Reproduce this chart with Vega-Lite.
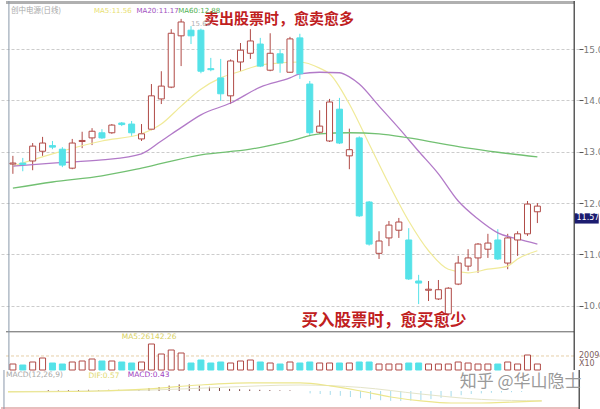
{
  "$schema": "https://vega.github.io/schema/vega-lite/v6.json",
  "padding": 0,
  "autosize": {"type": "pad"},
  "background": "white",
  "spacing": 0,
  "bounds": "flush",
  "config": {
    "view": {"stroke": null},
    "font": "DejaVu Sans",
    "axisY": {"grid": true, "gridColor": "#cccccc", "gridDash": [3, 2], "domain": false, "tickColor": "#555555", "tickSize": 4, "labelFontSize": 9, "labelColor": "#7a7a7a", "labelPadding": 0, "labelFont": "DejaVu Sans"}
  },
  "datasets": {
    "k": [
      {"i":1,"o":12.76,"h":12.92,"l":12.57,"c":12.78,"d":"u","v":8610},
      {"i":2,"o":12.78,"h":12.88,"l":12.62,"c":12.75,"d":"d","v":7175},
      {"i":3,"o":12.82,"h":13.17,"l":12.64,"c":13.11,"d":"u","v":11480},
      {"i":4,"o":13.01,"h":13.29,"l":12.92,"c":13.17,"d":"u","v":17220},
      {"i":5,"o":13.12,"h":13.21,"l":13.05,"c":13.09,"d":"d","v":10045},
      {"i":6,"o":13.05,"h":13.09,"l":12.70,"c":12.74,"d":"d","v":8610},
      {"i":7,"o":12.68,"h":13.25,"l":12.66,"c":13.17,"d":"u","v":11480},
      {"i":8,"o":13.20,"h":13.39,"l":13.07,"c":13.22,"d":"u","v":12915},
      {"i":9,"o":13.27,"h":13.46,"l":13.13,"c":13.40,"d":"u","v":15785},
      {"i":10,"o":13.37,"h":13.44,"l":13.25,"c":13.27,"d":"d","v":12915},
      {"i":11,"o":13.37,"h":13.54,"l":13.35,"c":13.52,"d":"u","v":12915},
      {"i":12,"o":13.56,"h":13.58,"l":13.50,"c":13.53,"d":"d","v":11480},
      {"i":13,"o":13.54,"h":13.60,"l":13.31,"c":13.37,"d":"d","v":10045},
      {"i":14,"o":13.25,"h":13.54,"l":13.21,"c":13.35,"d":"u","v":11480},
      {"i":15,"o":13.44,"h":14.32,"l":13.42,"c":14.09,"d":"u","v":37310},
      {"i":16,"o":14.03,"h":14.57,"l":13.93,"c":14.28,"d":"u","v":22960},
      {"i":17,"o":14.26,"h":15.39,"l":14.24,"c":15.31,"d":"u","v":28700},
      {"i":18,"o":15.26,"h":15.59,"l":14.67,"c":15.53,"d":"u","v":24395},
      {"i":19,"o":15.37,"h":15.45,"l":15.10,"c":15.26,"d":"d","v":10045},
      {"i":20,"o":15.37,"h":15.40,"l":14.53,"c":14.57,"d":"d","v":14350},
      {"i":21,"o":14.62,"h":14.83,"l":14.57,"c":14.60,"d":"d","v":10045},
      {"i":22,"o":14.44,"h":14.81,"l":13.99,"c":14.13,"d":"d","v":11480},
      {"i":23,"o":14.09,"h":14.80,"l":13.93,"c":14.77,"d":"u","v":10045},
      {"i":24,"o":14.75,"h":15.12,"l":14.57,"c":14.98,"d":"u","v":12915},
      {"i":25,"o":14.92,"h":15.39,"l":14.81,"c":15.16,"d":"u","v":14350},
      {"i":26,"o":15.10,"h":15.22,"l":14.65,"c":14.67,"d":"d","v":11480},
      {"i":27,"o":14.59,"h":15.31,"l":14.57,"c":14.92,"d":"u","v":10045},
      {"i":28,"o":14.91,"h":15.00,"l":14.54,"c":14.73,"d":"d","v":8610},
      {"i":29,"o":14.55,"h":15.24,"l":14.54,"c":15.20,"d":"u","v":11480},
      {"i":30,"o":15.22,"h":15.30,"l":14.42,"c":14.52,"d":"d","v":10045},
      {"i":31,"o":14.32,"h":14.38,"l":13.31,"c":13.37,"d":"d","v":11480},
      {"i":32,"o":13.38,"h":13.81,"l":13.35,"c":13.50,"d":"u","v":10045},
      {"i":33,"o":13.21,"h":14.03,"l":13.19,"c":13.97,"d":"u","v":10045},
      {"i":34,"o":13.83,"h":14.05,"l":13.15,"c":13.17,"d":"d","v":10045},
      {"i":35,"o":12.92,"h":13.45,"l":12.66,"c":13.04,"d":"u","v":10045},
      {"i":36,"o":13.27,"h":13.30,"l":11.73,"c":11.75,"d":"d","v":11480},
      {"i":37,"o":12.02,"h":12.04,"l":11.17,"c":11.20,"d":"d","v":11480},
      {"i":38,"o":11.02,"h":11.45,"l":10.91,"c":11.26,"d":"u","v":8610},
      {"i":39,"o":11.32,"h":11.65,"l":11.16,"c":11.57,"d":"u","v":8610},
      {"i":40,"o":11.47,"h":11.71,"l":11.32,"c":11.63,"d":"u","v":8610},
      {"i":41,"o":11.28,"h":11.51,"l":10.50,"c":10.52,"d":"d","v":10045},
      {"i":42,"o":10.48,"h":10.60,"l":10.03,"c":10.44,"d":"d","v":10045},
      {"i":43,"o":10.30,"h":10.48,"l":10.09,"c":10.32,"d":"u","v":8610},
      {"i":44,"o":10.13,"h":10.50,"l":10.11,"c":10.31,"d":"u","v":8610},
      {"i":45,"o":9.84,"h":10.36,"l":9.82,"c":10.34,"d":"u","v":8610},
      {"i":46,"o":10.42,"h":10.97,"l":10.40,"c":10.83,"d":"u","v":11480},
      {"i":47,"o":10.77,"h":11.10,"l":10.68,"c":10.93,"d":"u","v":10045},
      {"i":48,"o":10.93,"h":11.22,"l":10.64,"c":11.20,"d":"u","v":8610},
      {"i":49,"o":11.10,"h":11.40,"l":10.93,"c":11.22,"d":"u","v":8610},
      {"i":50,"o":11.28,"h":11.49,"l":10.89,"c":10.91,"d":"d","v":8610},
      {"i":51,"o":10.83,"h":11.40,"l":10.71,"c":11.32,"d":"u","v":11480},
      {"i":52,"o":11.28,"h":11.45,"l":10.97,"c":11.40,"d":"u","v":8610},
      {"i":53,"o":11.40,"h":12.04,"l":11.36,"c":11.98,"d":"u","v":21525},
      {"i":54,"o":11.83,"h":12.00,"l":11.61,"c":11.94,"d":"u","v":8610}
    ],
    "ma5": [
      {"i":1,"v":12.72},{"i":5,"v":12.96},{"i":10,"v":13.21},{"i":14,"v":13.35},{"i":16,"v":13.54},
      {"i":18,"v":13.89},{"i":20,"v":14.22},{"i":22,"v":14.44},{"i":24,"v":14.57},{"i":26,"v":14.69},
      {"i":28,"v":14.73},{"i":30,"v":14.75},{"i":32,"v":14.63},{"i":33,"v":14.52},{"i":35,"v":13.93},
      {"i":37,"v":13.15},{"i":39,"v":12.37},{"i":41,"v":11.65},{"i":43,"v":11.07},{"i":45,"v":10.71},
      {"i":47,"v":10.64},{"i":49,"v":10.71},{"i":51,"v":10.77},{"i":52,"v":10.91},{"i":54,"v":11.07}
    ],
    "ma20": [
      {"i":1,"v":12.72},{"i":5,"v":12.78},{"i":10,"v":12.84},{"i":14,"v":12.96},{"i":16,"v":13.21},
      {"i":18,"v":13.47},{"i":20,"v":13.72},{"i":23,"v":13.95},{"i":26,"v":14.26},{"i":29,"v":14.44},
      {"i":30,"v":14.52},{"i":32,"v":14.55},{"i":34,"v":14.54},{"i":35,"v":14.46},{"i":36,"v":14.32},
      {"i":38,"v":13.89},{"i":40,"v":13.46},{"i":42,"v":13.01},{"i":44,"v":12.57},{"i":46,"v":12.04},
      {"i":48,"v":11.69},{"i":50,"v":11.42},{"i":52,"v":11.30},{"i":54,"v":11.20}
    ],
    "ma60": [
      {"i":1,"v":12.29},{"i":5,"v":12.41},{"i":10,"v":12.53},{"i":14,"v":12.68},{"i":20,"v":12.94},
      {"i":25,"v":13.05},{"i":29,"v":13.21},{"i":32,"v":13.35},{"i":35,"v":13.37},{"i":38,"v":13.35},
      {"i":41,"v":13.27},{"i":44,"v":13.17},{"i":47,"v":13.07},{"i":50,"v":12.99},{"i":54,"v":12.90}
    ],
    "hist": [
      {"i":5,"m":0.03},{"i":6,"m":0.02},{"i":7,"m":0.03},{"i":8,"m":0.03},{"i":9,"m":0.04},{"i":10,"m":0.03},
      {"i":11,"m":0.04},{"i":12,"m":0.04},{"i":13,"m":0.03},{"i":14,"m":0.05},{"i":15,"m":0.1},{"i":16,"m":0.13},
      {"i":17,"m":0.18},{"i":18,"m":0.22},{"i":19,"m":0.22},{"i":20,"m":0.18},{"i":21,"m":0.14},{"i":22,"m":0.1},
      {"i":23,"m":0.07},{"i":24,"m":0.06},{"i":25,"m":0.05},{"i":26,"m":0.04},{"i":27,"m":0.03},{"i":28,"m":0.02},
      {"i":29,"m":0.02},{"i":31,"m":-0.08},{"i":32,"m":-0.1},{"i":33,"m":-0.13},{"i":34,"m":-0.16},{"i":35,"m":-0.2},
      {"i":36,"m":-0.24},{"i":37,"m":-0.28},{"i":38,"m":-0.31},{"i":39,"m":-0.33},{"i":40,"m":-0.33},{"i":41,"m":-0.32},
      {"i":42,"m":-0.3},{"i":43,"m":-0.27},{"i":44,"m":-0.23},{"i":45,"m":-0.19},{"i":46,"m":-0.14},{"i":47,"m":-0.1},
      {"i":48,"m":-0.08},{"i":49,"m":-0.06},{"i":50,"m":-0.05},{"i":51,"m":-0.04},{"i":52,"m":-0.03}
    ],
    "dif": [
      {"i":1,"m":-0.03},{"i":10,"m":0.0},{"i":15,"m":0.07},{"i":20,"m":0.2},{"i":25,"m":0.27},{"i":30,"m":0.27},
      {"i":33,"m":0.17},{"i":36,"m":0.0},{"i":39,"m":-0.2},{"i":42,"m":-0.33},{"i":45,"m":-0.4},{"i":48,"m":-0.4},
      {"i":51,"m":-0.37},{"i":54,"m":-0.33}
    ],
    "dea": [
      {"i":1,"m":-0.02},{"i":15,"m":0.03},{"i":22,"m":0.12},{"i":30,"m":0.2},{"i":36,"m":0.12},{"i":42,"m":-0.1},
      {"i":48,"m":-0.28},{"i":54,"m":-0.33}
    ]
  },
  "vconcat": [
    {
      "width": 578,
      "height": 331,
      "layer": [
        {
          "data": {"name": "k"},
          "mark": {"type": "rule", "strokeWidth": 1},
          "encoding": {
            "x": {"field": "i", "type": "quantitative", "scale": {"domain": [0.305, 57.7], "nice": false, "zero": false}, "axis": null},
            "y": {"field": "l", "type": "quantitative", "title": null, "scale": {"domain": [9.486, 15.939], "nice": false, "zero": false}, "axis": {"orient": "right", "values": [10, 10.5, 11, 11.5, 12, 12.5, 13, 13.5, 14, 14.5, 15, 15.5], "format": ".2f", "title": null}},
            "y2": {"field": "h"},
            "color": {"field": "d", "type": "nominal", "scale": {"domain": ["u", "d"], "range": ["#b04a46", "#55e2e8"]}, "legend": null}
          }
        },
        {
          "data": {"name": "ma5"},
          "mark": {"type": "line", "strokeWidth": 1.2, "color": "#f0ea98", "interpolate": "monotone"},
          "encoding": {
            "x": {"field": "i", "type": "quantitative"},
            "y": {"field": "v", "type": "quantitative", "title": null}
          }
        },
        {
          "data": {"name": "ma20"},
          "mark": {"type": "line", "strokeWidth": 1.3, "color": "#b27ac8", "interpolate": "monotone"},
          "encoding": {
            "x": {"field": "i", "type": "quantitative"},
            "y": {"field": "v", "type": "quantitative", "title": null}
          }
        },
        {
          "data": {"name": "ma60"},
          "mark": {"type": "line", "strokeWidth": 1.3, "color": "#72c072", "interpolate": "monotone"},
          "encoding": {
            "x": {"field": "i", "type": "quantitative"},
            "y": {"field": "v", "type": "quantitative", "title": null}
          }
        },
        {
          "data": {"name": "k"},
          "mark": {"type": "bar", "size": 6, "strokeWidth": 1},
          "encoding": {
            "x": {"field": "i", "type": "quantitative"},
            "y": {"field": "o", "type": "quantitative", "title": null},
            "y2": {"field": "c"},
            "fill": {"field": "d", "type": "nominal", "scale": {"domain": ["u", "d"], "range": ["#ffffff", "#55e2e8"]}, "legend": null},
            "stroke": {"field": "d", "type": "nominal", "scale": {"domain": ["u", "d"], "range": ["#b04a46", "#55e2e8"]}, "legend": null}
          }
        },
        {
          "data": {"values": [{"i": 27.9, "p": 15.59, "t": "卖出股票时，愈卖愈多"}]},
          "mark": {"type": "text", "font": "Noto Sans CJK SC", "fontWeight": "bold", "fontSize": 15, "color": "#c0201e", "align": "center", "baseline": "middle"},
          "encoding": {
            "x": {"field": "i", "type": "quantitative"},
            "y": {"field": "p", "type": "quantitative", "title": null},
            "text": {"field": "t", "type": "nominal"}
          }
        },
        {
          "data": {"values": [{"i": 38.5, "p": 9.70, "t": "买入股票时，愈买愈少"}]},
          "mark": {"type": "text", "font": "Noto Sans CJK SC", "fontWeight": "bold", "fontSize": 16.5, "color": "#c0201e", "align": "center", "baseline": "middle"},
          "encoding": {
            "x": {"field": "i", "type": "quantitative"},
            "y": {"field": "p", "type": "quantitative", "title": null},
            "text": {"field": "t", "type": "nominal"}
          }
        },
        {
          "data": {"values": [{"i": 0.8, "p": 15.74, "t": "创中电源(日线)"}]},
          "mark": {"type": "text", "font": "Noto Sans CJK SC", "fontSize": 7.5, "color": "#a8a8a8", "align": "left", "baseline": "middle"},
          "encoding": {"x": {"field": "i", "type": "quantitative"}, "y": {"field": "p", "type": "quantitative", "title": null}, "text": {"field": "t", "type": "nominal"}}
        },
        {
          "data": {"values": [{"i": 9.2, "p": 15.74, "t": "MA5:11.56"}]},
          "mark": {"type": "text", "fontSize": 7, "color": "#e8e070", "align": "left", "baseline": "middle"},
          "encoding": {"x": {"field": "i", "type": "quantitative"}, "y": {"field": "p", "type": "quantitative", "title": null}, "text": {"field": "t", "type": "nominal"}}
        },
        {
          "data": {"values": [{"i": 13.5, "p": 15.74, "t": "MA20:11.17"}]},
          "mark": {"type": "text", "fontSize": 7, "color": "#a050c0", "align": "left", "baseline": "middle"},
          "encoding": {"x": {"field": "i", "type": "quantitative"}, "y": {"field": "p", "type": "quantitative", "title": null}, "text": {"field": "t", "type": "nominal"}}
        },
        {
          "data": {"values": [{"i": 17.7, "p": 15.74, "t": "MA60:12.88"}]},
          "mark": {"type": "text", "fontSize": 7, "color": "#50b050", "align": "left", "baseline": "middle"},
          "encoding": {"x": {"field": "i", "type": "quantitative"}, "y": {"field": "p", "type": "quantitative", "title": null}, "text": {"field": "t", "type": "nominal"}}
        },
        {
          "data": {"values": [{"i": 19.0, "p": 15.50, "t": "15.62"}]},
          "mark": {"type": "text", "fontSize": 7, "color": "#b0b0b0", "align": "left", "baseline": "middle"},
          "encoding": {"x": {"field": "i", "type": "quantitative"}, "y": {"field": "p", "type": "quantitative", "title": null}, "text": {"field": "t", "type": "nominal"}}
        },
        {
          "data": {"values": [{"i": 57.75, "i2": 60.2, "p": 11.60, "p2": 11.80}]},
          "mark": {"type": "rect", "color": "#1c1c70"},
          "encoding": {"x": {"field": "i", "type": "quantitative"}, "x2": {"field": "i2"}, "y": {"field": "p", "type": "quantitative", "title": null}, "y2": {"field": "p2"}}
        },
        {
          "data": {"values": [{"i": 57.95, "p": 11.70, "t": "11.57"}]},
          "mark": {"type": "text", "fontSize": 8, "color": "#ffffff", "align": "left", "baseline": "middle"},
          "encoding": {"x": {"field": "i", "type": "quantitative"}, "y": {"field": "p", "type": "quantitative", "title": null}, "text": {"field": "t", "type": "nominal"}}
        },
        {
          "data": {"values": [{"i": 0.305, "i2": 57.7, "p": 9.49}]},
          "mark": {"type": "rule", "color": "#606060", "strokeWidth": 1},
          "encoding": {"x": {"field": "i", "type": "quantitative"}, "x2": {"field": "i2"}, "y": {"field": "p", "type": "quantitative", "title": null}}
        },
        {
          "data": {"values": [{"i": 0.305, "i2": 57.7, "p": 15.91}]},
          "mark": {"type": "rule", "color": "#b0b0b0", "strokeWidth": 3},
          "encoding": {"x": {"field": "i", "type": "quantitative"}, "x2": {"field": "i2"}, "y": {"field": "p", "type": "quantitative", "title": null}}
        },
        {
          "data": {"values": [{"i": 0.6, "p": 9.486, "p2": 15.939}]},
          "mark": {"type": "rule", "color": "#8a98aa", "strokeWidth": 1},
          "encoding": {"x": {"field": "i", "type": "quantitative"}, "y": {"field": "p", "type": "quantitative", "title": null}, "y2": {"field": "p2"}}
        },
        {
          "data": {"values": [{"i": 57.72, "p": 9.486, "p2": 15.939}]},
          "mark": {"type": "rule", "color": "#333333", "strokeWidth": 1.2},
          "encoding": {"x": {"field": "i", "type": "quantitative"}, "y": {"field": "p", "type": "quantitative", "title": null}, "y2": {"field": "p2"}}
        }
      ]
    },
    {
      "width": 578,
      "height": 38,
      "layer": [
        {
          "data": {"values": [{"i": 0.305, "i2": 57.7, "v": 20094}]},
          "mark": {"type": "rule", "color": "#e6cfa8", "strokeDash": [3, 2], "strokeWidth": 1},
          "encoding": {
            "x": {"field": "i", "type": "quantitative", "scale": {"domain": [0.305, 57.7], "nice": false, "zero": false}, "axis": null},
            "x2": {"field": "i2"},
            "y": {"field": "v", "type": "quantitative", "axis": null, "scale": {"domain": [0, 54530], "nice": false, "zero": true}}
          }
        },
        {
          "data": {"name": "k"},
          "mark": {"type": "bar", "size": 6, "strokeWidth": 1},
          "encoding": {
            "x": {"field": "i", "type": "quantitative"},
            "y": {"field": "v", "type": "quantitative", "axis": null},
            "fill": {"field": "d", "type": "nominal", "legend": null},
            "stroke": {"field": "d", "type": "nominal", "legend": null}
          }
        },
        {
          "data": {"values": [{"i": 12.0, "v": 47355, "t": "MA5:26142.26"}]},
          "mark": {"type": "text", "fontSize": 7.5, "color": "#d8d060", "align": "left", "baseline": "middle"},
          "encoding": {"x": {"field": "i", "type": "quantitative"}, "y": {"field": "v", "type": "quantitative", "axis": null}, "text": {"field": "t", "type": "nominal"}}
        },
        {
          "data": {"values": [{"i": 58.2, "v": 20094, "t": "20094"}, {"i": 58.2, "v": 8610, "t": "X10"}]},
          "mark": {"type": "text", "fontSize": 8, "color": "#806060", "align": "left", "baseline": "middle"},
          "encoding": {"x": {"field": "i", "type": "quantitative"}, "y": {"field": "v", "type": "quantitative", "axis": null}, "text": {"field": "t", "type": "nominal"}}
        },
        {
          "data": {"values": [{"i": 0.6, "v": 0, "v2": 54530}]},
          "mark": {"type": "rule", "color": "#8a98aa", "strokeWidth": 1},
          "encoding": {"x": {"field": "i", "type": "quantitative"}, "y": {"field": "v", "type": "quantitative", "axis": null}, "y2": {"field": "v2"}}
        },
        {
          "data": {"values": [{"i": 57.72, "v": 0, "v2": 54530}]},
          "mark": {"type": "rule", "color": "#333333", "strokeWidth": 1.2},
          "encoding": {"x": {"field": "i", "type": "quantitative"}, "y": {"field": "v", "type": "quantitative", "axis": null}, "y2": {"field": "v2"}}
        }
      ]
    },
    {
      "width": 578,
      "height": 40,
      "layer": [
        {
          "data": {"name": "hist"},
          "mark": {"type": "rule", "strokeWidth": 1},
          "encoding": {
            "x": {"field": "i", "type": "quantitative", "scale": {"domain": [0.305, 57.7], "nice": false, "zero": false}, "axis": null},
            "y": {"field": "m", "type": "quantitative", "axis": null, "scale": {"domain": [-0.633, 0.7], "nice": false, "zero": false}},
            "y2": {"datum": 0},
            "stroke": {"condition": {"test": "datum.m > 0", "value": "#7a4040"}, "value": "#a6dcec"}
          }
        },
        {
          "data": {"name": "dea"},
          "mark": {"type": "line", "strokeWidth": 1, "color": "#e4e4c8", "interpolate": "monotone"},
          "encoding": {"x": {"field": "i", "type": "quantitative"}, "y": {"field": "m", "type": "quantitative", "axis": null}}
        },
        {
          "data": {"name": "dif"},
          "mark": {"type": "line", "strokeWidth": 1.2, "color": "#ece68c", "interpolate": "monotone"},
          "encoding": {"x": {"field": "i", "type": "quantitative"}, "y": {"field": "m", "type": "quantitative", "axis": null}}
        },
        {
          "data": {"values": [{"i": 0.305, "i2": 57.7, "m": -0.567}]},
          "mark": {"type": "rule", "color": "#e0a8a8", "strokeWidth": 1.5},
          "encoding": {"x": {"field": "i", "type": "quantitative"}, "x2": {"field": "i2"}, "y": {"field": "m", "type": "quantitative", "axis": null}}
        },
        {
          "data": {"values": [{"i": 0.6, "m": -0.633, "m2": 0.7}]},
          "mark": {"type": "rule", "color": "#8a98aa", "strokeWidth": 1},
          "encoding": {"x": {"field": "i", "type": "quantitative"}, "y": {"field": "m", "type": "quantitative", "axis": null}, "y2": {"field": "m2"}}
        },
        {
          "data": {"values": [{"i": 57.72, "m": -0.633, "m2": 0.7}]},
          "mark": {"type": "rule", "color": "#333333", "strokeWidth": 1.2},
          "encoding": {"x": {"field": "i", "type": "quantitative"}, "y": {"field": "m", "type": "quantitative", "axis": null}, "y2": {"field": "m2"}}
        },
        {
          "data": {"values": [{"i": 0.8, "m": 0.53, "t": "MACD(12,26,9)"}]},
          "mark": {"type": "text", "fontSize": 7.5, "color": "#a8a8a8", "align": "left", "baseline": "middle"},
          "encoding": {"x": {"field": "i", "type": "quantitative"}, "y": {"field": "m", "type": "quantitative", "axis": null}, "text": {"field": "t", "type": "nominal"}}
        },
        {
          "data": {"values": [{"i": 9.0, "m": 0.5, "t": "DIF:0.57"}]},
          "mark": {"type": "text", "fontSize": 7.5, "color": "#e0d870", "align": "left", "baseline": "middle"},
          "encoding": {"x": {"field": "i", "type": "quantitative"}, "y": {"field": "m", "type": "quantitative", "axis": null}, "text": {"field": "t", "type": "nominal"}}
        },
        {
          "data": {"values": [{"i": 12.9, "m": 0.53, "t": "MACD:0.43"}]},
          "mark": {"type": "text", "fontSize": 7.5, "color": "#a040c0", "align": "left", "baseline": "middle"},
          "encoding": {"x": {"field": "i", "type": "quantitative"}, "y": {"field": "m", "type": "quantitative", "axis": null}, "text": {"field": "t", "type": "nominal"}}
        },
        {
          "data": {"values": [{"i": 51.9, "m": 0.3, "t": "知乎 @华山隐士"}]},
          "mark": {"type": "text", "font": "Noto Sans CJK SC", "fontSize": 17, "color": "#9a9a9a", "align": "center", "baseline": "middle"},
          "encoding": {"x": {"field": "i", "type": "quantitative"}, "y": {"field": "m", "type": "quantitative", "axis": null}, "text": {"field": "t", "type": "nominal"}}
        }
      ]
    }
  ]
}
